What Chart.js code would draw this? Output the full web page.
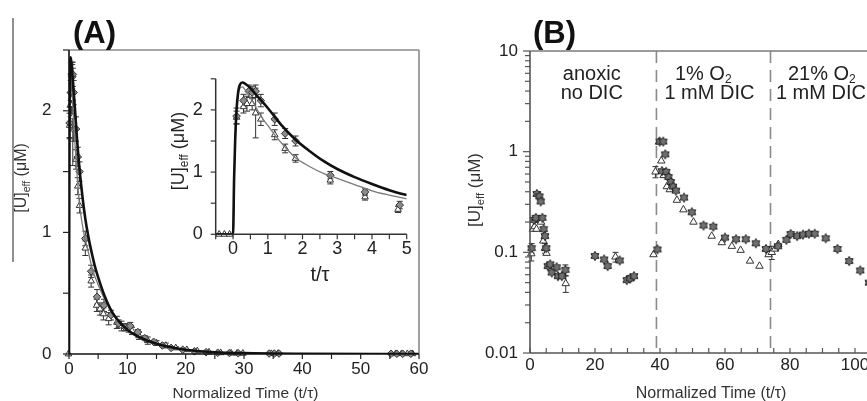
<!DOCTYPE html>
<html><head><meta charset="utf-8">
<script src="https://cdn.jsdelivr.net/npm/chart.js@4/dist/chart.umd.min.js"></script>
<style>
html,body{margin:0;padding:0;background:#fff;overflow:hidden;width:867px;height:401px;}
body{position:relative;}
canvas{position:absolute;}
#cA{left:0;top:0;}
#cIn{left:150px;top:55px;}
#cB{left:440px;top:0;}
</style></head><body>
<canvas id="cA" width="440" height="401"></canvas>
<canvas id="cIn" width="270" height="230"></canvas>
<canvas id="cB" width="460" height="401"></canvas>
<script>
// ---------- Panel A (and inset) data: normalized time t/tau, [U]eff (uM)
const A_TIME_D = [0.1, 0.3, 0.45, 0.55, 0.65, 0.8, 1.2, 1.5, 1.8, 2.8, 3.8, 4.8, 6.0, 7.2, 8.5, 9.6, 10.5, 11.8, 13.0, 14.5, 16.0, 17.5, 19.5, 21.5, 23.5, 25.5, 27.5, 29.0, 34.3, 35.2, 36.0, 55.2, 56.2, 57.2, 58.6];
const A_VAL_D  = [1.9, 2.15, 2.3, 2.28, 2.3, 2.15, 1.85, 1.62, 1.5, 0.95, 0.68, 0.47, 0.40, 0.32, 0.25, 0.22, 0.23, 0.18, 0.13, 0.10, 0.07, 0.05, 0.035, 0.022, 0.015, 0.01, 0.008, 0.006, 0.004, 0.004, 0.004, 0.002, 0.002, 0.002, 0.002];
const A_ERR_D  = [0.13, 0.1, 0.1, 0.1, 0.1, 0.1, 0.1, 0.08, 0.08, 0.06, 0.05, 0.06, 0.05, 0.04, 0.03, 0.03, 0.03, 0.02, 0.02, 0.01, 0.01, 0, 0, 0, 0, 0, 0, 0, 0, 0, 0, 0, 0, 0, 0];

const A_TIME_T = [-0.4, -0.25, -0.1, 0.1, 0.3, 0.4, 0.55, 0.65, 0.8, 1.2, 1.5, 1.8, 2.8, 3.8, 4.75, 5.3, 5.9, 6.8, 8.2, 9.0, 10.2, 10.8, 12.0, 13.5, 15.0, 16.6, 18.3, 20.2, 22.0, 24.0, 26.0, 27.8, 28.8, 29.8, 34.7, 35.8, 56.0, 57.0, 58.0, 58.9];
const A_VAL_T  = [0, 0, 0, 1.88, 2.05, 2.1, 2.1, 1.95, 1.85, 1.6, 1.38, 1.22, 0.87, 0.6, 0.4, 0.37, 0.33, 0.29, 0.26, 0.23, 0.21, 0.19, 0.15, 0.11, 0.09, 0.07, 0.05, 0.035, 0.025, 0.015, 0.01, 0.007, 0.006, 0.005, 0.003, 0.003, 0.002, 0.002, 0.002, 0.002];
const A_ERR_T  = [0, 0, 0, 0.1, 0.1, 0.12, 0.1, 0.4, 0.1, 0.08, 0.07, 0.06, 0.06, 0.05, 0.05, 0.05, 0.05, 0.05, 0.05, 0.04, 0.03, 0.03, 0.03, 0.03, 0.02, 0.02, 0.01, 0, 0, 0, 0, 0, 0, 0, 0, 0, 0, 0, 0, 0];

// model curves
const BLACK_T = [-0.5, 0, 0.03, 0.06, 0.1, 0.15, 0.2, 0.27, 0.35, 0.5, 0.7, 1.0, 1.4, 1.8, 2.2, 2.6, 3.0, 3.5, 4.0, 4.5, 5.0, 6.0, 7.0, 8.0, 10.0, 12.0, 15.0, 20.0, 25.0, 30.0, 40.0, 60.0];
const BLACK_V = [0, 0, 0.9, 1.5, 2.0, 2.3, 2.41, 2.44, 2.42, 2.35, 2.22, 2.03, 1.75, 1.52, 1.34, 1.18, 1.05, 0.92, 0.81, 0.71, 0.63, 0.49, 0.38, 0.30, 0.20, 0.14, 0.085, 0.035, 0.015, 0.007, 0.002, 0];
const GRAY_T  = [-0.5, 0, 0.03, 0.06, 0.1, 0.15, 0.2, 0.27, 0.35, 0.5, 0.7, 0.85, 1.0, 1.2, 1.5, 1.8, 2.2, 2.6, 3.0, 3.5, 4.0, 4.5, 5.0, 6.0, 7.0, 8.0, 10.0, 12.0, 15.0, 20.0, 25.0, 30.0, 40.0, 60.0];
const GRAY_V  = [0, 0, 0.85, 1.45, 1.95, 2.25, 2.35, 2.37, 2.32, 2.2, 2.0, 1.86, 1.75, 1.6, 1.4, 1.23, 1.09, 0.98, 0.9, 0.8, 0.7, 0.63, 0.57, 0.46, 0.37, 0.3, 0.2, 0.13, 0.08, 0.03, 0.013, 0.006, 0.002, 0];

const A_X_TICKS = [0, 5, 10, 15, 20, 25, 30, 35, 40, 45, 50, 55, 60];
const A_X_LABELS = [0, 10, 20, 30, 40, 50, 60];
const A_Y_TICKS = [0, 0.5, 1, 1.5, 2, 2.5];
const A_Y_LABELS = [0, 1, 2];
const IN_X_TICKS = [-0.5, 0, 0.5, 1, 1.5, 2, 2.5, 3, 3.5, 4, 4.5, 5];
const IN_X_LABELS = [0, 1, 2, 3, 4, 5];
const IN_Y_TICKS = [0, 0.5, 1, 1.5, 2, 2.5];
const IN_Y_LABELS = [0, 1, 2];

// ---------- Panel B data
const B_TIME_S = [0.5, 1.2, 1.8, 2.1, 2.9, 3.3, 3.8, 4.2, 4.6, 5.0, 5.5, 6.2, 6.7, 8.2, 8.6, 9.8, 10.9, 20.0, 22.8, 23.9, 27.6, 29.8, 30.8, 32.0, 39.2, 39.9, 41.0, 41.6, 40.6, 41.9, 42.6, 43.3, 44.0, 44.9, 47.4, 49.8, 53.4, 56.4, 60.0, 63.4, 66.4, 69.5, 72.6, 76.3, 78.9, 80.2, 82.2, 84.0, 85.8, 87.6, 91.0, 94.6, 98.2, 101.6, 104.3];
const B_VAL_S  = [0.11, 0.21, 0.22, 0.38, 0.36, 0.32, 0.22, 0.17, 0.145, 0.11, 0.073, 0.076, 0.063, 0.071, 0.058, 0.058, 0.067, 0.092, 0.085, 0.073, 0.083, 0.053, 0.055, 0.058, 0.107, 1.26, 1.26, 0.94, 0.64, 0.63, 0.56, 0.5, 0.45, 0.41, 0.35, 0.25, 0.185, 0.18, 0.14, 0.135, 0.135, 0.123, 0.108, 0.115, 0.133, 0.152, 0.145, 0.15, 0.153, 0.153, 0.138, 0.108, 0.082, 0.066, 0.05];
const B_ERR_S  = [0.012, 0, 0, 0, 0, 0, 0, 0, 0, 0, 0, 0, 0, 0, 0, 0, 0.008, 0, 0, 0, 0, 0, 0, 0, 0, 0, 0, 0, 0, 0, 0, 0, 0, 0, 0, 0, 0, 0, 0, 0, 0, 0, 0, 0, 0, 0, 0, 0, 0, 0, 0, 0, 0, 0, 0];
const B_TIME_T = [0.4, 0.9, 1.4, 2.0, 2.8, 3.4, 4.1, 4.6, 5.1, 11.0, 26.3, 30.2, 38.0, 39.7, 40.4, 38.6, 41.1, 42.1, 43.0, 45.2, 47.2, 50.3, 55.9, 59.0, 62.1, 64.8, 67.7, 70.6, 73.4, 74.4, 75.4, 76.4];
const B_VAL_T  = [0.097, 0.17, 0.18, 0.17, 0.21, 0.2, 0.13, 0.11, 0.098, 0.049, 0.09, 0.054, 0.095, 1.25, 0.81, 0.63, 0.58, 0.45, 0.42, 0.33, 0.265, 0.2, 0.145, 0.125, 0.115, 0.105, 0.082, 0.073, 0.095, 0.1, 0.108, 0.12];
const B_ERR_T  = [0.015, 0, 0, 0, 0, 0, 0, 0.012, 0, 0.009, 0.01, 0, 0, 0, 0, 0.08, 0, 0, 0, 0, 0, 0, 0, 0, 0, 0, 0, 0, 0, 0.015, 0, 0];
const B_DIVIDERS = [38.9, 74];
const B_X_TICKS = [0, 5, 10, 15, 20, 25, 30, 35, 40, 45, 50, 55, 60, 65, 70, 75, 80, 85, 90, 95, 100, 105, 110];
const B_X_LABELS = [0, 20, 40, 60, 80, 100];
const B_Y_TICKS = [0.01, 0.02, 0.03, 0.04, 0.05, 0.06, 0.07, 0.08, 0.09, 0.1, 0.2, 0.3, 0.4, 0.5, 0.6, 0.7, 0.8, 0.9, 1, 2, 3, 4, 5, 6, 7, 8, 9, 10];
const B_Y_LABELS = [0.01, 0.1, 1, 10];

// ---------- helpers
const FONT = '"Liberation Sans", Arial, Helvetica, sans-serif';
Chart.defaults.font.family = FONT;
const fnt = (s, b) => (b ? 'bold ' : '') + s + 'px ' + FONT;
const pts = (xs, ys) => xs.map((x, i) => ({x: x, y: ys[i]}));
const setTicks = vals => (sc => { sc.ticks = vals.map(v => ({value: v})); });
const labelCb = labels => (v => labels.some(l => Math.abs(l - v) < 1e-9) ? String(v) : '');

function makeStar(r, fill, stroke) {
  const s = Math.ceil(r * 2 + 4), c = document.createElement('canvas');
  c.width = c.height = s;
  const g = c.getContext('2d'), cx = s / 2, cy = s / 2;
  g.fillStyle = fill; g.strokeStyle = stroke; g.lineWidth = 1;
  g.beginPath();
  for (let i = 0; i < 12; i++) {
    const ang = -Math.PI / 2 + i * Math.PI / 6, rr = i % 2 === 0 ? r : r * 0.6;
    g.lineTo(cx + rr * Math.cos(ang), cy + rr * Math.sin(ang));
  }
  g.closePath(); g.fill(); g.stroke();
  return c;
}
const STAR = makeStar(4.6, '#707070', '#1e1e1e');

function drawText(ctx, chart, t) {
  const x = t.xVal !== undefined ? chart.scales.x.getPixelForValue(t.xVal) : t.x;
  ctx.save();
  ctx.fillStyle = t.color || '#222';
  ctx.textBaseline = 'alphabetic';
  const sub = t.size * (t.subScale || 0.66);
  const subDy = t.size * (t.subShift !== undefined ? t.subShift : 0.25);
  let w = 0;
  t.parts.forEach(([s, sb]) => { ctx.font = fnt(sb ? sub : t.size, t.bold); w += ctx.measureText(s).width; });
  ctx.translate(x, t.y);
  if (t.rotate) ctx.rotate(t.rotate);
  let cx = t.align === 'center' ? -w / 2 : (t.align === 'right' ? -w : 0);
  t.parts.forEach(([s, sb]) => {
    ctx.font = fnt(sb ? sub : t.size, t.bold);
    ctx.fillText(s, cx, sb ? subDy : 0);
    cx += ctx.measureText(s).width;
  });
  ctx.restore();
}

const UEFF = [['[U]', 0], ['eff', 1], [' (\u03bcM)', 0]];
const DECOR = {
  cA: {
    frame: [
      {side: 'top', color: '#8a8a8a', width: 1.6},
      {side: 'right', color: '#8a8a8a', width: 1.6},
      {side: 'left', color: '#111', width: 1.6},
      {side: 'bottom', color: '#111', width: 1.6}
    ],
    ticks: [
      {scale: 'x', values: A_X_TICKS, major: A_X_LABELS, len: 5, minorLen: 5, dir: 1, color: '#222'},
      {scale: 'y', values: A_Y_TICKS, major: A_Y_LABELS, len: 6, minorLen: 6, dir: 1, color: '#222'}
    ],
    lines: [{x1: 13, y1: 18, x2: 13, y2: 262, color: '#444', width: 1.2}],
    texts: [
      {parts: [['(A)', 0]], x: 73, y: 43, size: 31, bold: true, color: '#111'},
      {parts: UEFF, x: 20 + 0.36 * 16, y: 178, size: 16, rotate: -Math.PI / 2, align: 'center', color: '#333'},
      {parts: [['Normalized Time (t/\u03c4)', 0]], x: 245.5, y: 398, size: 15.5, align: 'center', color: '#333'}
    ]
  },
  cIn: {
    frame: [
      {side: 'left', color: '#333', width: 1.5},
      {side: 'bottom', color: '#333', width: 1.5}
    ],
    ticks: [
      {scale: 'x', values: IN_X_TICKS, major: IN_X_LABELS, len: 5, minorLen: 5, dir: 1, color: '#333'},
      {scale: 'y', values: IN_Y_TICKS, major: IN_Y_LABELS, len: 5, minorLen: 5, dir: 1, color: '#333'}
    ],
    texts: [
      {parts: UEFF, x: 27.5 + 0.36 * 18, y: 96, size: 18, rotate: -Math.PI / 2, align: 'center', color: '#222'},
      {parts: [['t/\u03c4', 0]], x: 170, y: 226, size: 20, align: 'center', color: '#222'}
    ]
  },
  cB: {
    frame: [
      {side: 'top', color: '#7a7a7a', width: 1.4, toEdge: true},
      {side: 'left', color: '#555', width: 1.6},
      {side: 'bottom', color: '#555', width: 1.6}
    ],
    ticks: [
      {scale: 'x', values: B_X_TICKS, major: B_X_LABELS, len: 5, minorLen: 5, dir: -1, color: '#555'},
      {scale: 'y', values: B_Y_TICKS, major: B_Y_LABELS, len: 7, minorLen: 5, dir: 1, color: '#555'}
    ],
    dividers: {values: B_DIVIDERS, color: '#8a8a8a', width: 1.6, dash: [12, 7]},
    texts: [
      {parts: [['(B)', 0]], x: 93, y: 43, size: 31, bold: true, color: '#111'},
      {parts: UEFF, x: 34 + 0.36 * 17, y: 190, size: 17, rotate: -Math.PI / 2, align: 'center', color: '#333'},
      {parts: [['Normalized Time (t/\u03c4)', 0]], x: 271, y: 398, size: 16, align: 'center', color: '#333'},
      {parts: [['anoxic', 0]], xVal: 19, y: 80, size: 20, align: 'center', color: '#222'},
      {parts: [['no DIC', 0]], xVal: 19, y: 99, size: 20, align: 'center', color: '#222'},
      {parts: [['1% O', 0], ['2', 1]], xVal: 53.3, y: 80, size: 20, align: 'center', color: '#222', subScale: 0.6, subShift: 0.14},
      {parts: [['1 mM DIC', 0]], xVal: 55.2, y: 99, size: 20, align: 'center', color: '#222'},
      {parts: [['21% O', 0], ['2', 1]], xVal: 89.8, y: 80, size: 20, align: 'center', color: '#222', subScale: 0.6, subShift: 0.14},
      {parts: [['1 mM DIC', 0]], xVal: 89.5, y: 99, size: 20, align: 'center', color: '#222'}
    ]
  }
};

const decorPlugin = {
  id: 'decor',
  beforeDatasetsDraw(chart) {
    const d = DECOR[chart.canvas.id]; if (!d) return;
    const ctx = chart.ctx, a = chart.chartArea;
    if (d.dividers) {
      ctx.save(); ctx.strokeStyle = d.dividers.color; ctx.lineWidth = d.dividers.width; ctx.setLineDash(d.dividers.dash);
      d.dividers.values.forEach(v => {
        const p = chart.scales.x.getPixelForValue(v);
        ctx.beginPath(); ctx.moveTo(p, a.top); ctx.lineTo(p, a.bottom); ctx.stroke();
      });
      ctx.restore();
    }
    ctx.save();
    ctx.beginPath(); ctx.rect(a.left - 8, a.top - 8, a.right - a.left + 16, a.bottom - a.top + 16); ctx.clip();
    const xs = chart.scales.x, ys = chart.scales.y;
    chart.data.datasets.forEach(ds => {
      if (!ds.errors) return;
      ctx.strokeStyle = '#333'; ctx.lineWidth = 1;
      ds.data.forEach((pt, j) => {
        const e = ds.errors[j]; if (!e) return;
        const px = xs.getPixelForValue(pt.x);
        if (px < a.left - 4 || px > a.right + 4) return;
        const lo = ys.type === 'logarithmic' ? Math.max(pt.y - e, ys.min) : pt.y - e;
        const y1 = ys.getPixelForValue(pt.y + e), y2 = ys.getPixelForValue(lo), cw = 3;
        ctx.beginPath();
        ctx.moveTo(px, y1); ctx.lineTo(px, y2);
        ctx.moveTo(px - cw, y1); ctx.lineTo(px + cw, y1);
        ctx.moveTo(px - cw, y2); ctx.lineTo(px + cw, y2);
        ctx.stroke();
      });
    });
    ctx.restore();
  },
  afterDraw(chart) {
    const d = DECOR[chart.canvas.id]; if (!d) return;
    const ctx = chart.ctx, a = chart.chartArea;
    ctx.save();
    (d.frame || []).forEach(f => {
      ctx.strokeStyle = f.color; ctx.lineWidth = f.width; ctx.beginPath();
      if (f.side === 'left') { ctx.moveTo(a.left, a.top); ctx.lineTo(a.left, a.bottom); }
      if (f.side === 'right') { ctx.moveTo(a.right, a.top); ctx.lineTo(a.right, a.bottom); }
      if (f.side === 'top') { ctx.moveTo(a.left, a.top); ctx.lineTo(f.toEdge ? chart.width : a.right, a.top); }
      if (f.side === 'bottom') { ctx.moveTo(a.left, a.bottom); ctx.lineTo(a.right, a.bottom); }
      ctx.stroke();
    });
    (d.ticks || []).forEach(t => {
      const sc = chart.scales[t.scale];
      ctx.strokeStyle = t.color; ctx.lineWidth = 1.2;
      t.values.forEach(v => {
        const major = t.major.some(m => Math.abs(m - v) < 1e-9);
        const len = major ? t.len : t.minorLen;
        const p = sc.getPixelForValue(v);
        ctx.beginPath();
        if (t.scale === 'x') { ctx.moveTo(p, a.bottom); ctx.lineTo(p, a.bottom + t.dir * len); }
        else { ctx.moveTo(a.left, p); ctx.lineTo(a.left - t.dir * len, p); }
        ctx.stroke();
      });
    });
    (d.lines || []).forEach(l => {
      ctx.strokeStyle = l.color; ctx.lineWidth = l.width;
      ctx.beginPath(); ctx.moveTo(l.x1, l.y1); ctx.lineTo(l.x2, l.y2); ctx.stroke();
    });
    ctx.restore();
    (d.texts || []).forEach(t => drawText(ctx, chart, t));
  }
};
Chart.register(decorPlugin);

function axisX(min, max, ticks, labels, size, pad, height) {
  return {type: 'linear', min: min, max: max, afterBuildTicks: setTicks(ticks),
    afterFit: s => { s.height = height; },
    grid: {display: false, drawTicks: false}, border: {display: false},
    ticks: {autoSkip: false, maxRotation: 0, minRotation: 0, padding: pad, color: '#222', font: {size: size}, callback: labelCb(labels)}};
}
function axisY(type, min, max, ticks, labels, size, pad, width) {
  return {type: type, min: min, max: max, afterBuildTicks: setTicks(ticks),
    afterFit: s => { s.width = width; },
    grid: {display: false, drawTicks: false}, border: {display: false},
    ticks: {autoSkip: false, padding: pad, color: '#222', font: {size: size}, callback: labelCb(labels)}};
}
const common = {responsive: false, animation: false, events: [],
  plugins: {legend: {display: false}, tooltip: {enabled: false}}};

function abDatasets(clip) {
  return [
    {data: pts(BLACK_T, BLACK_V), showLine: true, borderColor: '#111', borderWidth: 2.6, pointRadius: 0, cubicInterpolationMode: 'monotone'},
    {data: pts(GRAY_T, GRAY_V), showLine: true, borderColor: '#7a7a7a', borderWidth: 1.3, pointRadius: 0, cubicInterpolationMode: 'monotone'},
    {data: pts(A_TIME_D, A_VAL_D), errors: A_ERR_D, pointStyle: 'rectRot', pointRadius: 3.8, backgroundColor: '#8c8c8c', borderColor: '#333', borderWidth: 1, clip: clip},
    {data: pts(A_TIME_T, A_VAL_T), errors: A_ERR_T, pointStyle: 'triangle', pointRadius: 3.8, backgroundColor: '#fff', borderColor: '#333', borderWidth: 1, clip: clip}
  ];
}

new Chart(document.getElementById('cA'), {
  type: 'scatter',
  data: {datasets: abDatasets(6)},
  options: Object.assign({}, common, {
    layout: {padding: {left: 0, top: 50, right: 21, bottom: 0}},
    scales: {
      x: axisX(0, 60, A_X_TICKS, A_X_LABELS, 17, 5, 47),
      y: axisY('linear', 0, 2.5, A_Y_TICKS, A_Y_LABELS, 17, 17.5, 69)
    }
  })
});

new Chart(document.getElementById('cIn'), {
  type: 'scatter',
  data: {datasets: abDatasets(4)},
  options: Object.assign({}, common, {
    layout: {padding: {left: 0, top: 13.8, right: 13.3, bottom: 0}},
    scales: {
      x: axisX(-0.5, 5, IN_X_TICKS, IN_X_LABELS, 18, 3.5, 50.7),
      y: axisY('linear', 0, 2.5, IN_Y_TICKS, IN_Y_LABELS, 18, 13, 65.7)
    }
  })
});

new Chart(document.getElementById('cB'), {
  type: 'scatter',
  data: {datasets: [
    {data: pts(B_TIME_S, B_VAL_S), errors: B_ERR_S, pointStyle: STAR, pointRadius: 4.6, clip: 8},
    {data: pts(B_TIME_T, B_VAL_T), errors: B_ERR_T, pointStyle: 'triangle', pointRadius: 4.3, backgroundColor: '#fff', borderColor: '#333', borderWidth: 1, clip: 8}
  ]},
  options: Object.assign({}, common, {
    layout: {padding: {left: 0, top: 51, right: 12.5, bottom: 0}},
    scales: {
      x: axisX(0, 110, B_X_TICKS, B_X_LABELS, 17, 2, 48),
      y: axisY('logarithmic', 0.01, 10, B_Y_TICKS, B_Y_LABELS, 17, 12, 90)
    }
  })
});
</script>
</body></html>
